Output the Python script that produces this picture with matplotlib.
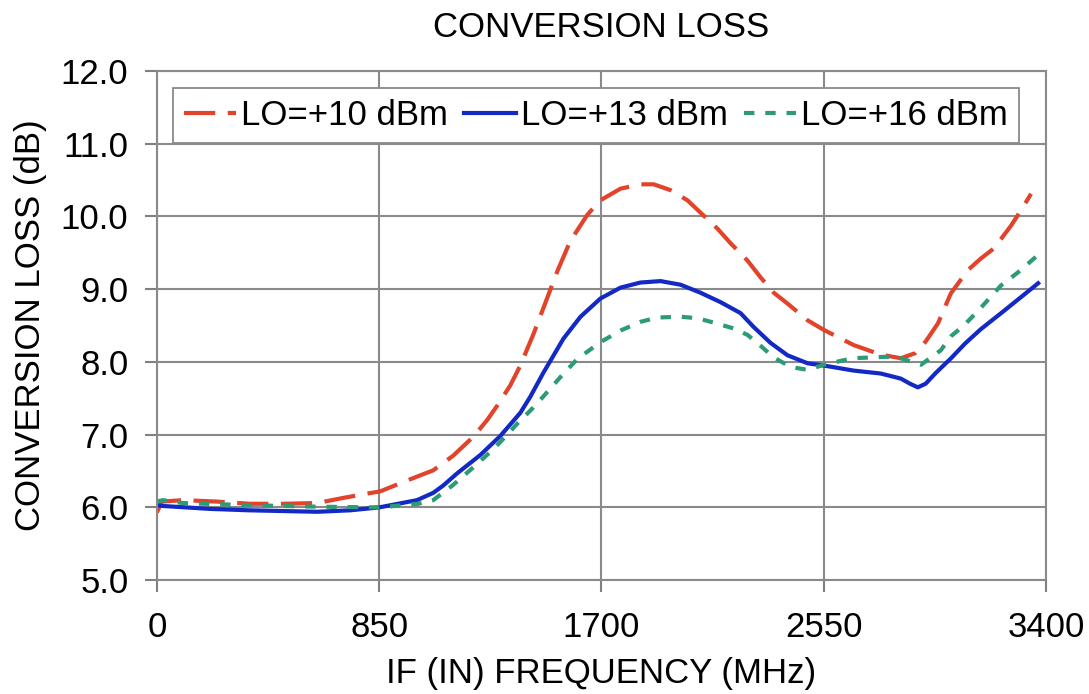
import matplotlib.pyplot as plt

plt.rcParams['font.family'] = ['Liberation Sans', 'DejaVu Sans']

# IF frequency (MHz) and conversion loss (dB)
freq_10 = [0, 19, 100, 230, 356, 483, 613, 712, 804, 854, 957, 1057, 1133, 1210, 1263,
           1302, 1352, 1390, 1440, 1493, 1532, 1581, 1646, 1696, 1773, 1849, 1900, 1964,
           2029, 2091, 2144, 2194, 2259, 2309, 2359, 2412, 2489, 2550, 2665, 2768, 2845,
           2900, 2940, 2987, 3036, 3101, 3151, 3201, 3266, 3304, 3343]
loss_10 = [5.93, 6.08, 6.1, 6.08, 6.05, 6.05, 6.06, 6.13, 6.19, 6.22, 6.37, 6.51, 6.71,
           6.97, 7.2, 7.4, 7.68, 7.95, 8.38, 8.88, 9.25, 9.66, 10.02, 10.22, 10.38, 10.44,
           10.44, 10.36, 10.22, 10.01, 9.83, 9.63, 9.39, 9.16, 8.95, 8.8, 8.57, 8.44,
           8.23, 8.1, 8.05, 8.12, 8.28, 8.53, 8.94, 9.26, 9.42, 9.56, 9.87, 10.08, 10.31]

freq_13 = [0, 23, 200, 356, 613, 739, 850, 995, 1057, 1095, 1149, 1237, 1313, 1390, 1428,
           1478, 1555, 1620, 1696, 1773, 1849, 1926, 2003, 2079, 2156, 2232, 2282, 2347,
           2412, 2489, 2550, 2665, 2768, 2845, 2880, 2910, 2940, 2979, 3037, 3090, 3151,
           3239, 3370]
loss_13 = [6.03, 6.02, 5.98, 5.96, 5.94, 5.96, 6.0, 6.1, 6.2, 6.3, 6.47, 6.72, 6.98, 7.3,
           7.52, 7.85, 8.32, 8.62, 8.87, 9.02, 9.09, 9.11, 9.06, 8.95, 8.82, 8.67, 8.48,
           8.26, 8.09, 7.98, 7.95, 7.88, 7.84, 7.77, 7.7, 7.65, 7.7, 7.85, 8.05, 8.25,
           8.45, 8.7, 9.08]

freq_16 = [0, 23, 100, 356, 613, 850, 1000, 1057, 1130, 1210, 1287, 1340, 1378, 1428,
           1467, 1543, 1608, 1696, 1773, 1849, 1915, 2003, 2068, 2129, 2205, 2259, 2309,
           2359, 2424, 2489, 2550, 2660, 2790, 2845, 2922, 2998, 3036, 3086, 3140, 3228,
           3293, 3370]
loss_16 = [6.08, 6.1, 6.06, 6.03, 6.01, 6.0, 6.05, 6.1, 6.3, 6.55, 6.8, 7.0, 7.15, 7.33,
           7.48, 7.79, 8.04, 8.27, 8.43, 8.55, 8.61, 8.62, 8.6, 8.54, 8.46, 8.37, 8.22,
           8.06, 7.93, 7.89, 7.96, 8.05, 8.07, 8.05, 7.96, 8.16, 8.35, 8.5, 8.7, 9.05,
           9.23, 9.47]

x_ticks = [0, 850, 1700, 2550, 3400]
y_ticks = [5.0, 6.0, 7.0, 8.0, 9.0, 10.0, 11.0, 12.0]

fig = plt.figure(figsize=(10.89, 6.94), dpi=100)
ax = fig.add_axes([0.144, 0.164, 0.8165, 0.734])

ax.plot(freq_10, loss_10, color='#e2432b', lw=3, dashes=(7.5, 3), label='LO=+10 dBm')
ax.plot(freq_13, loss_13, color='#1229c6', lw=3, label='LO=+13 dBm')
ax.plot(freq_16, loss_16, color='#2c9b76', lw=3, dashes=(2.5, 2.6), label='LO=+16 dBm')

ax.set_xlim(0, 3400)
ax.set_ylim(5, 12)
ax.set_xticks(x_ticks)
ax.set_yticks(y_ticks)
ax.set_yticklabels([f'{v:.1f}' for v in y_ticks])
ax.tick_params(labelsize=25, length=8.5, width=1.5, color='#808080', direction='out')
ax.tick_params(axis='x', pad=14)
ax.tick_params(axis='y', pad=12)
ax.grid(True, color='#8a8a8a', lw=1.5)
for s in ax.spines.values():
    s.set_color('#8a8a8a')
    s.set_linewidth(1.5)

ax.set_title('CONVERSION LOSS', fontsize=25, pad=24)
ax.set_xlabel('IF (IN) FREQUENCY (MHz)', fontsize=25, labelpad=9)
ax.set_ylabel('CONVERSION LOSS (dB)', fontsize=25, labelpad=10)

leg = ax.legend(loc='upper left', bbox_to_anchor=(0.018, 0.966), ncol=3, fontsize=25,
                frameon=True, fancybox=False, edgecolor='#8a8a8a', framealpha=1,
                handlelength=1.5, handletextpad=0.15, columnspacing=0.45,
                borderpad=0.32, borderaxespad=0)
leg.get_frame().set_linewidth(1.3)

fig.savefig('out.png', dpi=100)
